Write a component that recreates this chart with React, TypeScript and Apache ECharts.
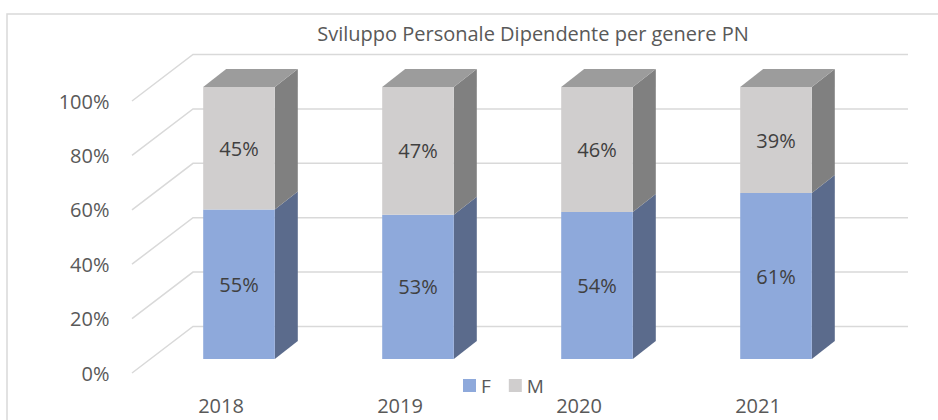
import React, { useEffect, useRef } from "react";
import * as echarts from "echarts";

const categories = ["2018", "2019", "2020", "2021"];
const femaleValues = [55, 53, 54, 61];
const maleValues = [45, 47, 46, 39];
const tickValues = [0, 0.2, 0.4, 0.6, 0.8, 1];
const seriesNames = ["F", "M"];
const titleText = "Sviluppo Personale Dipendente per genere PN";

const FONT = "'Open Sans', 'Liberation Sans', sans-serif";
const TEXT = "#595959";
const BLUE_FRONT = "#8EA9DB";
const BLUE_SIDE = "#5B6B8C";
const GRAY_FRONT = "#D0CECE";
const GRAY_SIDE = "#808080";
const GRAY_TOP = "#9C9C9C";
const DEPTH_DX = 23;
const DEPTH_DY = -18;

export default function App() {
  const ref = useRef<HTMLDivElement>(null);
  useEffect(() => {
    if (!ref.current) return;
    const chart = echarts.init(ref.current, null, { renderer: "svg" });

    const makeBar = (front: string, side: string, top: string | null) =>
      (params: any, api: any) => {
        const cat = api.value(0);
        const lo = api.value(1);
        const hi = api.value(2);
        const pct = api.value(3);
        const pLo = api.coord([cat, lo]);
        const pHi = api.coord([cat, hi]);
        const w = api.size([1, 0])[0] * 0.4;
        const xl = pLo[0] - w / 2;
        const xr = pLo[0] + w / 2;
        const yb = pLo[1];
        const yt = pHi[1];
        const children: any[] = [
          {
            type: "polygon",
            shape: {
              points: [
                [xr, yt],
                [xr + DEPTH_DX, yt + DEPTH_DY],
                [xr + DEPTH_DX, yb + DEPTH_DY],
                [xr, yb],
              ],
            },
            style: { fill: side },
          },
          {
            type: "rect",
            shape: { x: xl, y: yt, width: w, height: yb - yt },
            style: { fill: front },
          },
        ];
        if (top) {
          children.push({
            type: "polygon",
            shape: {
              points: [
                [xl, yt],
                [xl + DEPTH_DX, yt + DEPTH_DY],
                [xr + DEPTH_DX, yt + DEPTH_DY],
                [xr, yt],
              ],
            },
            style: { fill: top },
          });
        }
        children.push({
          type: "text",
          style: {
            text: pct + "%",
            x: (xl + xr) / 2,
            y: (yt + yb) / 2,
            align: "center",
            verticalAlign: "middle",
            fill: "#404040",
            fontSize: 20,
            fontFamily: FONT,
          },
        });
        return { type: "group", children };
      };

    const option: any = {
      animation: false,
      backgroundColor: "#ffffff",
      title: {
        text: titleText,
        left: 528,
        textAlign: "center",
        top: 18,
        textStyle: { fontSize: 20, fontWeight: "normal", color: TEXT, fontFamily: FONT },
      },
      legend: {
        data: seriesNames,
        left: 458,
        top: 371,
        itemWidth: 13,
        itemHeight: 13,
        itemGap: 18,
        icon: "rect",
        textStyle: { fontSize: 19, color: TEXT, fontFamily: FONT },
      },
      graphic: [
        {
          type: "rect",
          shape: { x: 7, y: 14, width: 960, height: 440 },
          style: { fill: "none", stroke: "#D9D9D9", lineWidth: 1.5 },
          silent: true,
        },
      ],
      grid: [
        { left: 149.5, right: 72.5, top: 87, bottom: 61 },
        { left: 131.5, right: 90.5, top: 101, bottom: 47 },
      ],
      xAxis: [
        { type: "category", data: categories, gridIndex: 0, show: false },
        {
          type: "category",
          data: categories,
          gridIndex: 1,
          axisLine: { show: false },
          axisTick: { show: false },
          axisLabel: { fontSize: 20, color: TEXT, fontFamily: FONT, margin: 22 },
        },
      ],
      yAxis: [
        { type: "value", min: 0, max: 1, interval: 0.2, gridIndex: 0, show: false },
        {
          type: "value",
          min: 0,
          max: 1,
          interval: 0.2,
          gridIndex: 1,
          axisLine: { show: false },
          axisTick: { show: false },
          splitLine: { show: false },
          axisLabel: {
            fontSize: 20,
            color: TEXT,
            fontFamily: FONT,
            margin: 22,
            padding: [4, 0, 0, 0],
            formatter: (v: number) => Math.round(v * 100) + "%",
          },
        },
      ],
      series: [
        {
          type: "custom",
          name: "grid",
          xAxisIndex: 0,
          yAxisIndex: 0,
          silent: true,
          z: 1,
          data: tickValues.map((v) => [0, v]),
          renderItem: (params: any, api: any) => {
            const cs = params.coordSys;
            const y = api.coord([0, api.value(1)])[1];
            return {
              type: "polyline",
              shape: {
                points: [
                  [cs.x - 17.5, y + 14],
                  [cs.x + 43.5, y - 32.5],
                  [cs.x + cs.width + 42.5, y - 32.5],
                ],
              },
              style: { stroke: "#D9D9D9", lineWidth: 1.5, fill: "none" },
            };
          },
        },
        {
          type: "custom",
          name: "F",
          xAxisIndex: 0,
          yAxisIndex: 0,
          z: 2,
          itemStyle: { color: BLUE_FRONT },
          data: categories.map((_, i) => [i, 0, femaleValues[i] / 100, femaleValues[i]]),
          renderItem: makeBar(BLUE_FRONT, BLUE_SIDE, null),
        },
        {
          type: "custom",
          name: "M",
          xAxisIndex: 0,
          yAxisIndex: 0,
          z: 3,
          itemStyle: { color: GRAY_FRONT },
          data: categories.map((_, i) => [i, femaleValues[i] / 100, 1, maleValues[i]]),
          renderItem: makeBar(GRAY_FRONT, GRAY_SIDE, GRAY_TOP),
        },
      ],
    };
    chart.setOption(option);
    return () => chart.dispose();
  }, []);
  return (
    <div
      ref={ref}
      style={{ position: "fixed", left: 0, top: 0, width: 938, height: 420 }}
    />
  );
}
